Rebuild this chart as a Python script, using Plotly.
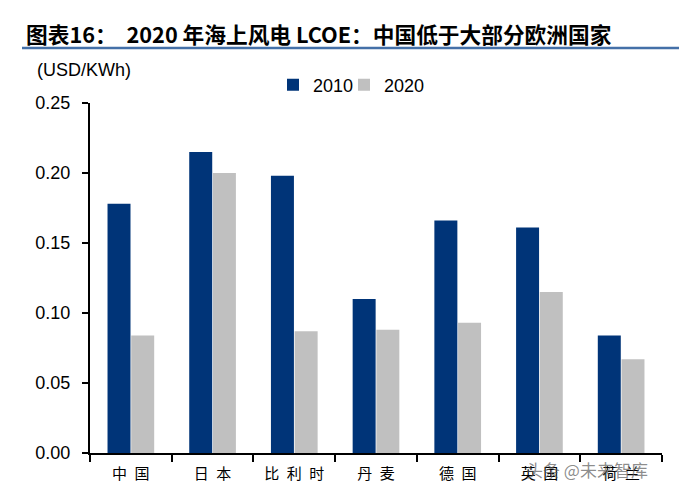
import plotly.graph_objects as go

categories = ["中\u2002国", "日\u2002本", "比\u2002利\u2002时", "丹\u2002麦", "德\u2002国", "英\u2002国", "荷\u2002兰"]
values_2010 = [0.178, 0.215, 0.198, 0.110, 0.166, 0.161, 0.084]
values_2020 = [0.084, 0.200, 0.087, 0.088, 0.093, 0.115, 0.067]
y_ticks = [0.00, 0.05, 0.10, 0.15, 0.20, 0.25]
y_tick_labels = ["0.00", "0.05", "0.10", "0.15", "0.20", "0.25"]

fig = go.Figure()
fig.add_trace(go.Bar(name="2010", x=categories, y=values_2010, legend="legend",
                     marker=dict(color="#003478", line=dict(width=0))))
fig.add_trace(go.Bar(name="2020", x=categories, y=values_2020, legend="legend2",
                     marker=dict(color="#c0c0c0", line=dict(width=0))))

PW = 572.0
PH = 350.0
leg_y = 1.0 + (103 - 85) / PH

fig.update_layout(
    width=679, height=495,
    margin=dict(l=90, r=17, t=103, b=42, autoexpand=False),
    paper_bgcolor="white", plot_bgcolor="white",
    barmode="group", bargap=0.42, bargroupgap=0.03,
    font=dict(family="Liberation Sans, Arial", size=18, color="black"),
    showlegend=True,
    legend=dict(orientation="h", x=(273 - 90) / PW, xanchor="left",
                y=leg_y, yanchor="middle",
                font=dict(size=18), itemwidth=30, bgcolor="rgba(0,0,0,0)"),
    legend2=dict(orientation="h", x=(344 - 90) / PW, xanchor="left",
                 y=leg_y, yanchor="middle",
                 font=dict(size=18), itemwidth=30, bgcolor="rgba(0,0,0,0)"),
    xaxis=dict(showline=True, linecolor="black", linewidth=2,
               ticks="outside", tickson="boundaries", ticklen=7, tickwidth=2,
               tickcolor="black", showgrid=False, ticklabelstandoff=6,
               tickfont=dict(family="Noto Sans CJK SC", size=15)),
    yaxis=dict(range=[0, 0.25], tickvals=y_ticks, ticktext=y_tick_labels,
               showline=True, linecolor="black", linewidth=2,
               ticks="outside", ticklen=6, tickwidth=2, tickcolor="black",
               showgrid=False, zeroline=False, ticklabelstandoff=8,
               tickfont=dict(size=18)),
)

fig.add_annotation(text="<b>图表16：  2020 年海上风电 LCOE：中国低于大部分欧洲国家</b>",
                   xref="paper", yref="paper", x=(24 - 90) / PW, y=1.0 + (103 - 33) / PH,
                   xanchor="left", yanchor="middle", showarrow=False,
                   font=dict(family="Noto Sans CJK SC", size=21.7, color="black"))
fig.add_shape(type="line", xref="paper", yref="paper",
              x0=(22 - 90) / PW, x1=(679 - 90) / PW,
              y0=1.0 + (103 - 48) / PH, y1=1.0 + (103 - 48) / PH,
              line=dict(color="#4470a8", width=2.5))
fig.add_annotation(text="(USD/KWh)", xref="paper", yref="paper",
                   x=(35 - 90) / PW, y=1.0 + (103 - 70) / PH,
                   xanchor="left", yanchor="middle", showarrow=False,
                   font=dict(size=18, color="black"))
fig.add_annotation(text="头条 @未来智库", xref="paper", yref="paper",
                   x=(524 - 90) / PW, y=-(470 - 453) / PH,
                   xanchor="left", yanchor="middle", showarrow=False,
                   font=dict(family="Noto Sans CJK SC", size=17, color="rgba(90,90,90,0.7)"))

fig.write_html("out.html", config={"displayModeBar": False},
               post_script="document.body.style.margin='0';")
